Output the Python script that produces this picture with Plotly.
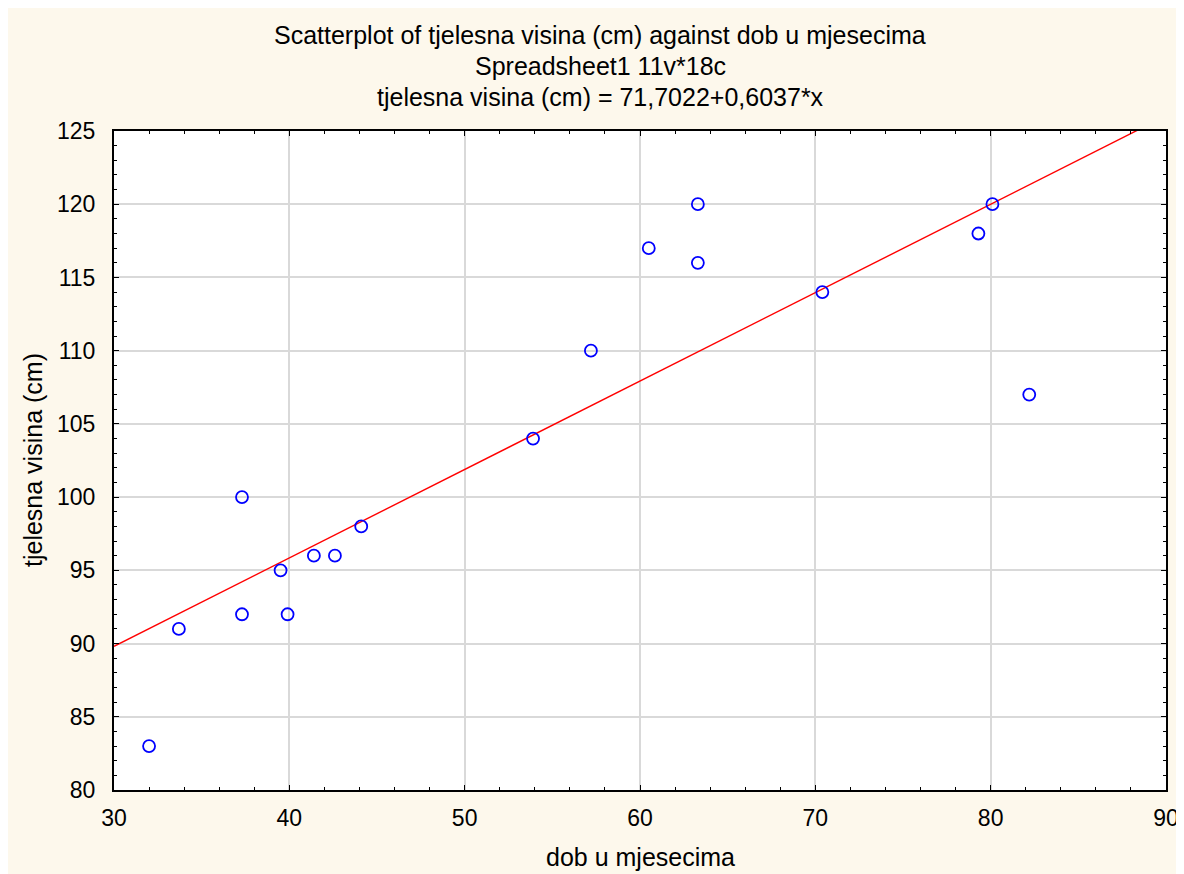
import plotly.graph_objects as go

# Data
dob = [32.0, 33.7, 37.3, 37.3, 39.5, 39.9, 41.4, 42.6, 44.1,
       53.9, 57.2, 60.5, 63.3, 63.3, 70.4, 79.3, 80.1, 82.2]
visina = [83, 91, 100, 92, 95, 92, 96, 96, 98,
          104, 110, 117, 120, 116, 114, 118, 120, 107]

intercept = 71.7022
slope = 0.6037
line_x = [30, 90]
line_y = [intercept + slope * v for v in line_x]

title_lines = [
    "Scatterplot of tjelesna visina (cm) against dob u mjesecima",
    "Spreadsheet1 11v*18c",
    "tjelesna visina (cm) = 71,7022+0,6037*x",
]
x_title = "dob u mjesecima"
y_title = "tjelesna visina (cm)"

W, H = 1169, 866
L, R, T, B = 106, 11, 123, 84
PW, PH = W - L - R, H - T - B

def px_x(p):
    return (p - L) / PW

def px_y(p):
    return (H - B - p) / PH

FONT = "Liberation Sans, Arial, sans-serif"
CREAM = "#FDF8EC"

fig = go.Figure()
fig.add_trace(go.Scatter(
    x=line_x, y=line_y, mode="lines",
    line=dict(color="#FF0000", width=1.4),
    showlegend=False, hoverinfo="skip",
))
fig.add_trace(go.Scatter(
    x=dob, y=visina, mode="markers",
    marker=dict(symbol="circle-open", size=12, color="#0000FF",
                line=dict(color="#0000FF", width=1.8)),
    showlegend=False,
))

axis_common = dict(
    showline=True, linecolor="black", linewidth=2, mirror="ticks",
    ticks="inside", ticklen=5, tickwidth=1.2, tickcolor="black",
    showgrid=True, gridcolor="#D9D9D9", gridwidth=1.5,
    zeroline=False, automargin=False, ticklabeloverflow="allow",
    tickfont=dict(family=FONT, size=23, color="black"),
)

fig.update_xaxes(
    range=[30, 90], tick0=30, dtick=10,
    minor=dict(dtick=2, ticks="inside", ticklen=3, tickcolor="black", showgrid=False),
    ticklabelstandoff=6,
    **axis_common,
)
fig.update_yaxes(
    range=[80, 125], tick0=80, dtick=5,
    minor=dict(dtick=1, ticks="inside", ticklen=3, tickcolor="black", showgrid=False),
    ticklabelstandoff=12,
    **axis_common,
)

annotations = []
for txt, py in zip(title_lines, [27, 58, 89]):
    annotations.append(dict(
        text=txt, xref="paper", yref="paper", x=px_x(592), y=px_y(py),
        xanchor="center", yanchor="middle", showarrow=False,
        font=dict(family=FONT, size=25, color="black"),
    ))
annotations.append(dict(
    text=x_title, xref="paper", yref="paper", x=px_x(632), y=px_y(849),
    xanchor="center", yanchor="middle", showarrow=False,
    font=dict(family=FONT, size=25, color="black"),
))
annotations.append(dict(
    text=y_title, xref="paper", yref="paper", x=px_x(25), y=px_y(452),
    xanchor="center", yanchor="middle", showarrow=False, textangle=-90,
    font=dict(family=FONT, size=25, color="black"),
))

fig.update_layout(
    width=W, height=H,
    margin=dict(l=L, r=R, t=T, b=B, autoexpand=False),
    paper_bgcolor=CREAM, plot_bgcolor="white",
    font=dict(family=FONT, color="black"),
    annotations=annotations,
)

fig.write_html("out.html")
